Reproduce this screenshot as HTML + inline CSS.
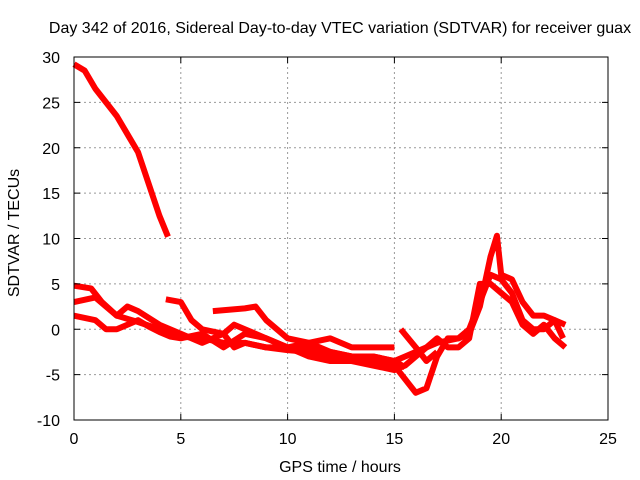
<!DOCTYPE html>
<html><head><meta charset="utf-8"><style>
body{margin:0;background:#fff;}
svg{display:block;font-family:"Liberation Sans",sans-serif;}
</style></head><body>
<svg id="chart" width="640" height="480" viewBox="0 0 640 480">
<rect width="640" height="480" fill="#fff"/>
<text x="340" y="33" font-size="16" text-anchor="middle">Day 342 of 2016, Sidereal Day-to-day VTEC variation (SDTVAR) for receiver guax</text>
<g id="grid"></g>
<g id="series"></g>
<g id="axes"></g>
<text x="340" y="472" font-size="16" text-anchor="middle">GPS time / hours</text>
<text x="19" y="233" font-size="16" text-anchor="middle" transform="rotate(-90 19 233)">SDTVAR / TECUs</text>
</svg>
<script>
const xTicks=[0,5,10,15,20,25];
const yTicks=[-10,-5,0,5,10,15,20,25,30];
const seriesA=[[0,29.2],[0.5,28.5],[1,26.5],[2,23.5],[3,19.5],[3.5,16],[4,12.5],[4.4,10.2]];
const seriesB=[[0,4.8],[0.8,4.5],[1.3,3],[2,1.5],[3,0.8],[4,0],[5,-0.8],[6,-1],[7,-1.5],[8,-1.5],[9,-2],[10,-2.3],[11,-2.5],[12,-3],[13,-3.2],[14,-3.5],[15,-4],[15.5,-5.5],[16,-7],[16.5,-6.5],[17,-3],[17.5,-1],[18,-1],[18.5,0],[19,3],[19.5,6],[20,5.5],[20.5,4],[21,1],[21.5,0],[22,0],[22.5,1],[22.9,-1]];
const seriesC=[[0,3],[1,3.5],[1.5,2.5],[2,1.5],[2.5,2.5],[3,2],[4,0.5],[5,-0.5],[6,-1.5],[7,-0.5],[7.5,0.5],[8,0],[9,-1],[10,-2],[11,-2],[12,-2.5],[13,-3],[14,-3],[15,-3.5],[15.5,-3],[16,-2.5],[17,-1.5],[18,-1],[18.5,-0.5],[19,2.5],[19.5,8],[19.8,10.3],[20,6],[20.5,5.5],[21,3],[21.5,1.5],[22,1.5],[22.5,1],[23,0.5]];
const seriesD=[[0,1.5],[1,1],[1.5,0],[2,0],[2.5,0.5],[3,1],[3.5,0.3],[4,-0.3],[4.5,-0.8],[5,-1],[6,-0.5],[7,-2],[8,-0.5],[9,-1],[10,-2],[11,-3],[12,-3.5],[13,-3.5],[14,-4],[15,-4.5],[15.5,-4],[16,-3],[17,-1],[17.5,-2],[18,-2],[18.5,-1],[19,5],[19.5,5],[20,4],[20.5,3],[21,0.5],[21.5,-0.5],[22,0.5],[22.5,-1],[23,-2]];
const seriesE=[[4.3,3.3],[5,3],[5.5,1],[6,0],[7,-0.5],[7.5,-2],[8,-1.5],[9,-2],[10,-2],[11,-1.5],[12,-1],[13,-2],[14,-2],[15,-2]];
const seriesF=[[6.5,2],[8,2.3],[8.5,2.5],[9,1],[10,-1],[11,-1.5],[12,-2.5],[13,-3],[14,-3],[15,-3.5],[15.5,-4.2]];
const seriesG=[[15.3,0],[16,-2],[16.5,-3.5],[17,-2.5]];
const allSeries=[seriesA,seriesB,seriesC,seriesD,seriesE,seriesF,seriesG];
const X0=74,X1=608,Y0=420,Y1=57;
const xs=v=>X0+(v-0)/(25-0)*(X1-X0);
const ys=v=>Y0-(v+10)/40*(Y0-Y1);
const NS="http://www.w3.org/2000/svg";
const grid=document.getElementById('grid'),axes=document.getElementById('axes'),ser=document.getElementById('series');
function mk(t,a,p){const e=document.createElementNS(NS,t);for(const k in a)e.setAttribute(k,a[k]);p.appendChild(e);return e;}
xTicks.forEach(t=>{
 const x=xs(t);
 if(t>0&&t<25){const g=mk('line',{x1:x,x2:x,y1:Y1,y2:Y0,stroke:'#999','stroke-dasharray':'2,3'},grid);
 
 }
 mk('line',{x1:x,x2:x,y1:Y0,y2:Y0-6,stroke:'#000'},axes);
 mk('line',{x1:x,x2:x,y1:Y1,y2:Y1+6,stroke:'#000'},axes);
 const l=mk('text',{x:x,y:Y0+24,'font-size':16,'text-anchor':'middle'},axes);l.textContent=t;
 
 
});
yTicks.forEach(t=>{
 const y=ys(t);
 if(t>-10&&t<30){const g=mk('line',{x1:X0,x2:X1,y1:y,y2:y,stroke:'#999','stroke-dasharray':'2,3'},grid);
 
 }
 mk('line',{x1:X0,x2:X0+6,y1:y,y2:y,stroke:'#000'},axes);
 mk('line',{x1:X1,x2:X1-6,y1:y,y2:y,stroke:'#000'},axes);
 const l=mk('text',{x:X0-14,y:y+6,'font-size':16,'text-anchor':'end'},axes);l.textContent=t;
 
 
});
const fr=mk('rect',{x:X0,y:Y1,width:X1-X0,height:Y0-Y1,fill:'none',stroke:'#000'},axes);


allSeries.forEach((s,i)=>{
 const p=mk('polyline',{points:s.map(d=>xs(d[0])+','+ys(d[1])).join(' '),fill:'none',stroke:'#f00','stroke-width':6,'stroke-linejoin':'round'},ser);
 
 
});
</script>
</body></html>
